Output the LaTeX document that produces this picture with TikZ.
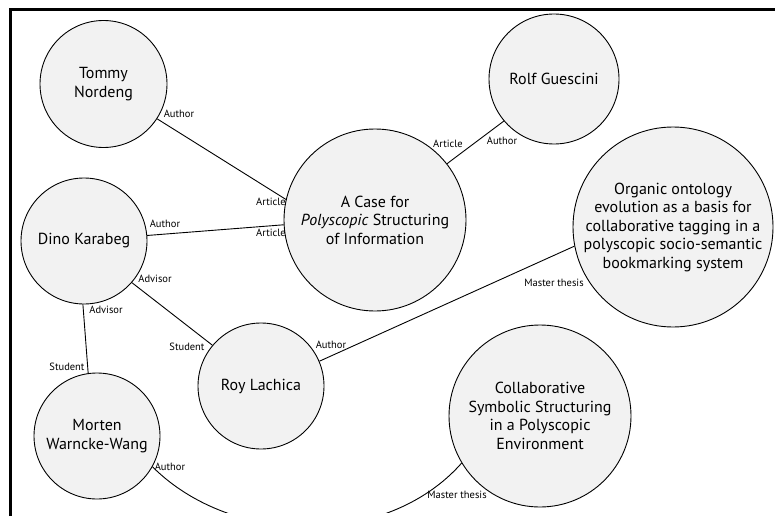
\documentclass[tikz,border=0pt]{standalone}
\usepackage{fontspec}
\setmainfont{PT Sans}
\definecolor{circfill}{HTML}{F2F2F2}
\begin{document}
\begin{tikzpicture}[x=1pt,y=-1pt,
  ent/.style={circle, draw=black, fill=circfill, line width=0.9pt,
    inner sep=0pt, minimum size=#1, align=center,
    font=\fontsize{16}{18.5}\selectfont},
  rel/.style={draw=black, line width=0.9pt},
  lbl/.style={inner sep=0pt, font=\fontsize{10.5}{12}\selectfont}
]
\useasboundingbox (0,0) rectangle (775,516);
% frame on the left and top
\draw[line width=3pt] (10.5,516) -- (10.5,9.5) -- (775,9.5);

% entities
\node[ent=127pt] (tommy)  at (103.5,84) {Tommy\\Nordeng};
\node[ent=126pt] (dino)   at (84,241)   {Dino Karabeg};
\node[ent=126pt] (morten) at (97,436)   {Morten\\Warncke-Wang};
\node[ent=126pt] (roy)    at (261,386)  {Roy Lachica};
\node[ent=182pt] (case)   at (375,220)  {A Case for\\\textit{Polyscopic} Structuring\\of Information};
\node[ent=130pt] (rolf)   at (554,79)   {Rolf Guescini};
\node[ent=200pt] (organic) at (673,227) {Organic ontology\\evolution as a basis for\\collaborative tagging in a\\polyscopic socio-semantic\\bookmarking system};
\node[ent=182pt] (collab) at (540,416)  {Collaborative\\Symbolic Structuring\\in a Polyscopic\\Environment};

% relations
\draw[rel] (tommy.-33.7) -- (case.167.2);
\draw[rel] (dino.5.4) -- (case.183.3);
\draw[rel] (case.38) -- (rolf.220);
\draw[rel] (roy.23.8) -- (organic.191);
\draw[rel] (dino.-41.3) -- (roy.140.6);
\draw[rel] (dino.-91) -- (morten.98);
\begin{scope}
  \clip (0,0) rectangle (775,512);
  \draw[rel] (morten.-29.7) .. controls +(80,80) and +(-75,85) .. (collab.211.6);
\end{scope}

% relation labels
\node[lbl] (l1)  at (179,114) {Author};
\node[lbl] (l2)  at (271,202) {Article};
\node[lbl] (l3)  at (165,224) {Author};
\node[lbl] (l4)  at (271,233) {Article};
\node[lbl] (l5)  at (448,144) {Article};
\node[lbl] (l6)  at (502,141) {Author};
\node[lbl] (l7)  at (554,283) {Master thesis};
\node[lbl] (l8)  at (331,345) {Author};
\node[lbl] (l9)  at (155,279) {Advisor};
\node[lbl] (l10) at (187,347) {Student};
\node[lbl] (l11) at (106,310) {Advisor};
\node[lbl] (l12) at (67,367)  {Student};
\node[lbl] (l13) at (170,467) {Author};
\node[lbl] (l14) at (457,495) {Master thesis};
\end{tikzpicture}
\end{document}
